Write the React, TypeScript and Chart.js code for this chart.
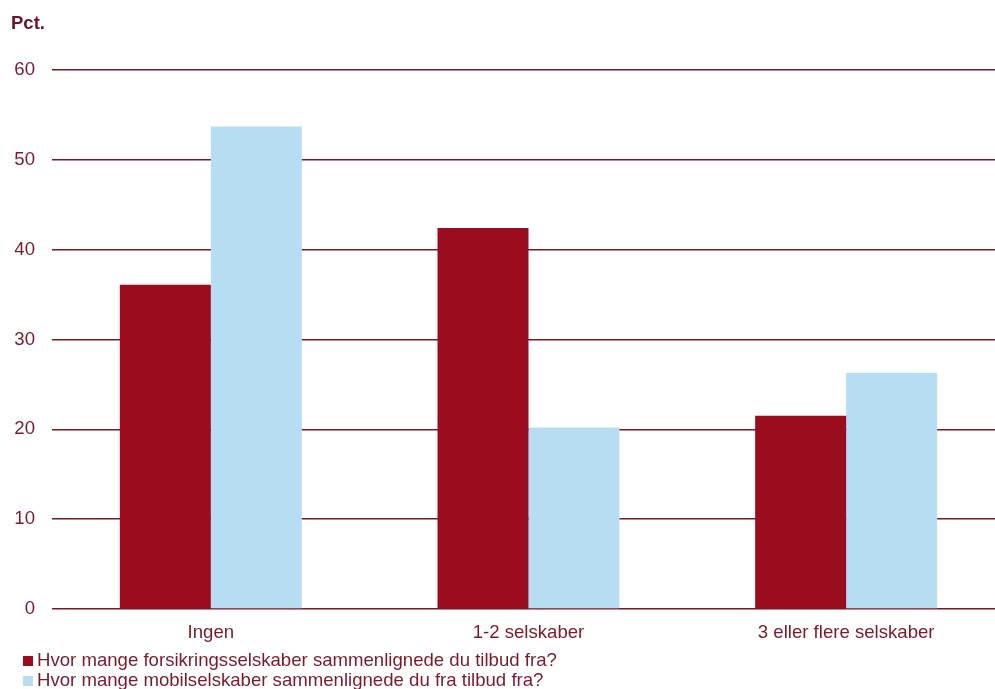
import React, { useEffect, useRef } from "react";
import { Chart, registerables } from "chart.js";

Chart.register(...registerables);

const categories: string[] = ["Ingen", "1-2 selskaber", "3 eller flere selskaber"];
const seriesNames: string[] = [
  "Hvor mange forsikringsselskaber sammenlignede du tilbud fra?",
  "Hvor mange mobilselskaber sammenlignede du fra tilbud fra?",
];
const forsikringValues: number[] = [36.1, 42.4, 21.5];
const mobilValues: number[] = [53.7, 20.2, 26.3];
const yTicks: number[] = [0, 10, 20, 30, 40, 50, 60];

const RED = "#9c0c1f";
const BLUE = "#b7ddf3";
const GRID = "#741a25";
const TEXT = "#7a1a2a";
const FONT = "'Liberation Sans', Arial, sans-serif";

export default function App() {
  const canvasRef = useRef<HTMLCanvasElement | null>(null);

  useEffect(() => {
    if (!canvasRef.current) return;
    const chart = new Chart(canvasRef.current, {
      type: "bar",
      data: {
        labels: categories,
        datasets: [
          {
            label: seriesNames[0],
            data: forsikringValues,
            backgroundColor: RED,
            borderWidth: 0,
            categoryPercentage: 0.573,
            barPercentage: 1,
          },
          {
            label: seriesNames[1],
            data: mobilValues,
            backgroundColor: BLUE,
            borderWidth: 0,
            categoryPercentage: 0.573,
            barPercentage: 1,
          },
        ],
      },
      options: {
        animation: false,
        responsive: true,
        maintainAspectRatio: false,
        layout: { padding: { top: 70, right: 5, left: 0, bottom: 0 } },
        plugins: {
          legend: { display: false },
          tooltip: { enabled: false },
          title: { display: false },
        },
        scales: {
          x: {
            grid: { display: false },
            border: { display: false },
            ticks: {
              color: TEXT,
              font: { family: FONT, size: 18.6 },
              padding: 5,
              maxRotation: 0,
              autoSkip: false,
            },
            afterFit: (scale: any) => {
              scale.height = 80;
            },
          },
          y: {
            min: 0,
            max: 60,
            afterBuildTicks: (scale: any) => {
              scale.ticks = yTicks.map((v) => ({ value: v }));
            },
            grid: {
              color: GRID,
              lineWidth: 1.6,
              drawTicks: false,
            },
            border: { display: false },
            ticks: {
              color: TEXT,
              font: { family: FONT, size: 18.6 },
              padding: 17,
            },
            afterFit: (scale: any) => {
              scale.width = 52;
            },
          },
        },
      },
    });
    return () => chart.destroy();
  }, []);

  return (
    <div
      style={{
        position: "fixed",
        left: 0,
        top: 0,
        width: 995,
        height: 689,
        overflow: "hidden",
        background: "#ffffff",
        fontFamily: FONT,
      }}
    >
      <div style={{ position: "absolute", left: 0, top: 0, width: 1010, height: 689 }}>
        <canvas ref={canvasRef} />
      </div>
      <div
        style={{
          position: "absolute",
          left: 11,
          top: 13,
          fontWeight: "bold",
          fontSize: 18.5,
          lineHeight: "20px",
          color: "#6b1424",
        }}
      >
        Pct.
      </div>
      <div
        style={{
          position: "absolute",
          left: 23,
          top: 649.6,
          fontSize: 18.6,
          lineHeight: "20px",
          color: TEXT,
          whiteSpace: "nowrap",
        }}
      >
        {seriesNames.map((name, i) => (
          <div key={name}>
            <span
              style={{
                display: "inline-block",
                width: 10,
                height: 10,
                background: i === 0 ? RED : BLUE,
                marginRight: 4,
              }}
            />
            {name}
          </div>
        ))}
      </div>
    </div>
  );
}
